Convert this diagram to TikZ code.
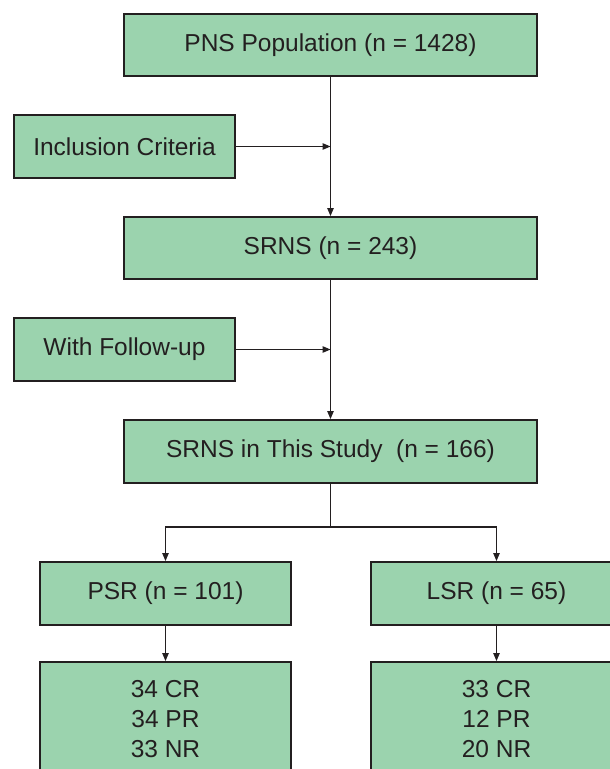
\documentclass[tikz,border=0pt]{standalone}
\usepackage{fontspec}
\setmainfont{Liberation Sans}
\usetikzlibrary{arrows.meta}
\definecolor{boxfill}{HTML}{9BD3AE}
\definecolor{boxline}{HTML}{231F20}
\begin{document}
\begin{tikzpicture}[x=1pt,y=1pt,
  box/.style={draw=boxline, line width=2pt, fill=boxfill, inner sep=0pt,
    font=\fontsize{24.5}{30}\selectfont, text=boxline, align=center},
  conn/.style={draw=boxline, line width=1.1pt, -{Triangle[length=8pt,width=6.5pt]}},
  plain/.style={draw=boxline, line width=1.1pt}]
\useasboundingbox (0,0) rectangle (610,-769);
\clip (0,0) rectangle (610,-769);
\fill[white] (0,0) rectangle (610,-769);
\node[box, minimum width=413pt, minimum height=62pt] (top) at (330.5,-45) {PNS Population (n = 1428)};
\node[box, minimum width=221pt, minimum height=63pt] (incl) at (124.5,-146.5) {Inclusion Criteria};
\node[box, minimum width=413pt, minimum height=62pt] (srns) at (330.5,-248) {SRNS (n = 243)};
\node[box, minimum width=221pt, minimum height=63pt] (follow) at (124.5,-349.5) {With Follow-up};
\node[box, minimum width=413pt, minimum height=63pt] (study) at (330.5,-451.5) {SRNS in This Study\ \ (n = 166)};
\node[box, minimum width=251pt, minimum height=63pt] (psr) at (165.5,-593.5) {PSR (n = 101)};
\node[box, minimum width=251pt, minimum height=63pt] (lsr) at (496.5,-593.5) {LSR (n = 65)};
\node[box, minimum width=251pt, minimum height=114pt] (resp) at (165.5,-719) {34 CR\\34 PR\\33 NR};
\node[box, minimum width=251pt, minimum height=114pt] (resl) at (496.5,-719) {33 CR\\12 PR\\20 NR};
\coordinate (m1) at (top.south |- incl.east);
\coordinate (m2) at (srns.south |- follow.east);
\coordinate (br) at (330.5,-527);
\draw[conn] (top.south) -- (srns.north);
\draw[conn] (incl.east) -- (m1);
\draw[conn] (srns.south) -- (study.north);
\draw[conn] (follow.east) -- (m2);
\draw[plain] (study.south) -- (br);
\draw[conn] (br) -| (psr.north);
\draw[conn] (br) -| (lsr.north);
\draw[conn] (psr.south) -- (resp.north);
\draw[conn] (lsr.south) -- (resl.north);
\end{tikzpicture}
\end{document}
